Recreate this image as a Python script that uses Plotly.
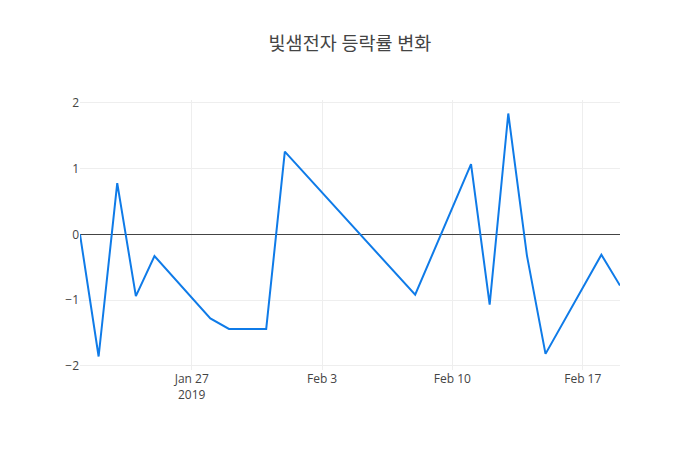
import plotly.graph_objects as go

dates = ["2019-01-21", "2019-01-22", "2019-01-23", "2019-01-24", "2019-01-25",
         "2019-01-28", "2019-01-29", "2019-01-30", "2019-01-31", "2019-02-01",
         "2019-02-08", "2019-02-11", "2019-02-12", "2019-02-13", "2019-02-14",
         "2019-02-15", "2019-02-18", "2019-02-19"]
rates = [0.0, -1.86, 0.78, -0.94, -0.33,
         -1.28, -1.44, -1.44, -1.44, 1.26,
         -0.92, 1.07, -1.07, 1.84, -0.32,
         -1.82, -0.31, -0.78]

fig = go.Figure(go.Scatter(x=dates, y=rates, mode="lines",
                           line=dict(color="#0f7be8", width=2)))
fig.update_layout(
    width=700, height=450,
    title=dict(text="빛샘전자 등락률 변화", x=0.5, xanchor="center",
               font=dict(size=18.5, color="#444")),
    font=dict(family="Open Sans, Noto Sans CJK KR, sans-serif", color="#444", size=12),
    plot_bgcolor="white", paper_bgcolor="white",
    margin=dict(l=80, r=80, t=100, b=80),
    showlegend=False,
)
fig.update_xaxes(showgrid=True, gridcolor="#eee", zeroline=False, showline=False)
fig.update_yaxes(showgrid=True, gridcolor="#eee", zeroline=True, zerolinecolor="#444",
                 zerolinewidth=1, showline=False)
fig.write_html("out.html")
